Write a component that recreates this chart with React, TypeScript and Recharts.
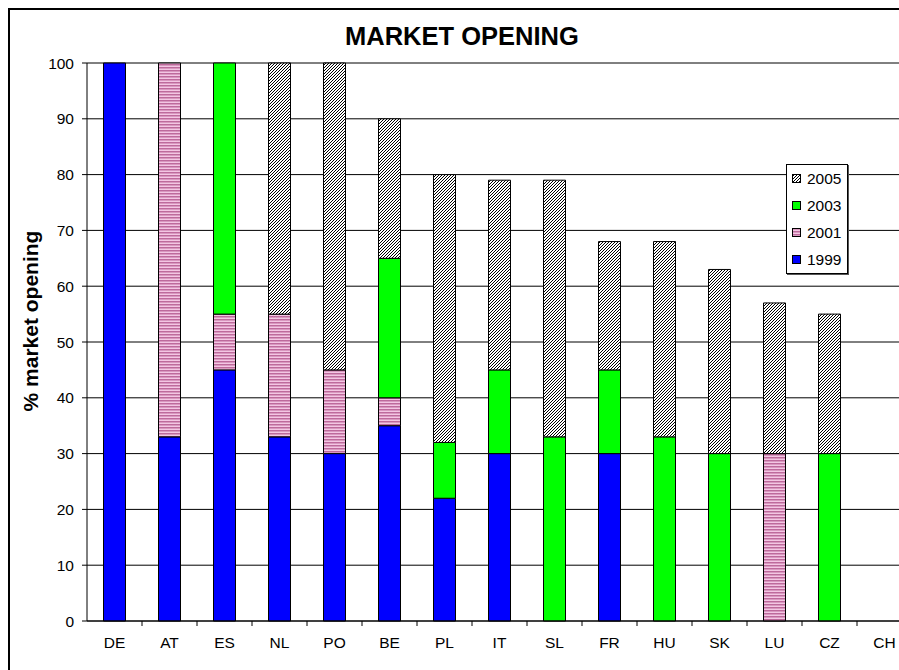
import React from "react";
import { BarChart, Bar, XAxis, YAxis, CartesianGrid, Legend } from "recharts";

const countries = ["DE", "AT", "ES", "NL", "PO", "BE", "PL", "IT", "SL", "FR", "HU", "SK", "LU", "CZ", "CH"];
const y1999 = [100, 33, 45, 33, 30, 35, 22, 30, 0, 30, 0, 0, 0, 0, 0];
const y2001 = [0, 67, 10, 22, 15, 5, 0, 0, 0, 0, 0, 0, 30, 0, 0];
const y2003 = [0, 0, 45, 0, 0, 25, 10, 15, 33, 15, 33, 30, 0, 30, 0];
const y2005 = [0, 0, 0, 45, 55, 25, 48, 34, 46, 23, 35, 33, 27, 25, 0];
const yTicks = [0, 10, 20, 30, 40, 50, 60, 70, 80, 90, 100];

const seriesKeys = ["1999", "2001", "2003", "2005"];
const seriesFills: Record<string, string> = {
  "1999": "#0000FF",
  "2001": "url(#pat2001)",
  "2003": "#00FF00",
  "2005": "url(#pat2005)",
};

const data = countries.map((c, i) => ({
  name: c,
  "1999": y1999[i],
  "2001": y2001[i],
  "2003": y2003[i],
  "2005": y2005[i],
}));

const FONT = "Arial, 'Liberation Sans', Helvetica, sans-serif";
const TICK_SIZE = 5;
const TICK_MARGIN = 11;

const XTick = (props: any) => {
  const { x, y, payload } = props;
  const half = payload && typeof payload.offset === "number" && payload.offset > 0 ? payload.offset : 27.5;
  const axisY = y - TICK_SIZE - TICK_MARGIN;
  return (
    <g>
      <line x1={x + half} x2={x + half} y1={axisY} y2={axisY + TICK_SIZE} stroke="#000" strokeWidth={1} />
      <text x={x} y={y} dy="0.71em" textAnchor="middle" fontSize={15.5} fontFamily={FONT} fill="#000">
        {payload.value}
      </text>
    </g>
  );
};

const YLabel = (props: any) => {
  const vb = props.viewBox || {};
  const cx = vb.x + 11;
  const cy = vb.y + vb.height / 2 - 21;
  return (
    <text
      x={cx}
      y={cy}
      transform={`rotate(-90, ${cx}, ${cy})`}
      textAnchor="middle"
      fontSize={21}
      fontWeight="bold"
      fontFamily={FONT}
      fill="#000"
    >
      % market opening
    </text>
  );
};

const legendOrder = ["2005", "2003", "2001", "1999"];

const LegendBox = () => (
  <div
    style={{
      border: "1px solid #000",
      background: "#fff",
      width: 60,
      boxShadow: "1px 1px 0 #555",
      fontFamily: FONT,
      fontSize: 15.5,
      color: "#000",
    }}
  >
    {legendOrder.map((k) => (
      <div key={k} style={{ height: 27, display: "flex", alignItems: "center", paddingLeft: 5 }}>
        <svg width={9} height={9} style={{ display: "block", marginRight: 6 }}>
          <rect x={0.5} y={0.5} width={8} height={8} fill={seriesFills[k]} stroke="#000" strokeWidth={1} />
        </svg>
        <span style={{ lineHeight: "15px" }}>{k}</span>
      </div>
    ))}
  </div>
);

export default function App() {
  return (
    <div
      style={{
        position: "absolute",
        left: 8,
        top: 8,
        width: 889,
        height: 660,
        overflow: "hidden",
        borderTop: "2px solid #000",
        borderLeft: "2px solid #000",
        background: "#fff",
      }}
    >
      <style>{`html, body { overflow: hidden; background: #fff; }`}</style>
      <div
        style={{
          position: "absolute",
          left: 335,
          top: 11,
          whiteSpace: "nowrap",
          fontFamily: FONT,
          fontWeight: "bold",
          fontSize: 25.5,
          lineHeight: "30px",
          color: "#000",
        }}
      >
        MARKET OPENING
      </div>
      <BarChart
        width={930}
        height={640}
        data={data}
        margin={{ top: 53, right: 28, left: 17, bottom: 9 }}
        barCategoryGap="30%"
      >
        <defs>
          <pattern id="pat2005" width="3" height="3" patternUnits="userSpaceOnUse">
            <rect width="3" height="3" fill="#fff" />
            <path d="M-1,1 l2,-2 M0,3 l3,-3 M2,4 l2,-2" stroke="#000" strokeWidth="1" />
          </pattern>
          <pattern id="pat2001" width="4" height="3" patternUnits="userSpaceOnUse">
            <rect width="4" height="3" fill="#F3C6E3" />
            <rect width="4" height="1.5" fill="#BE6A9C" />
          </pattern>
        </defs>
        <CartesianGrid vertical={false} stroke="#000" strokeWidth={1} />
        <XAxis
          dataKey="name"
          stroke="#000"
          tickLine={false}
          tickSize={TICK_SIZE}
          tickMargin={TICK_MARGIN}
          height={20}
          interval={0}
          tick={<XTick />}
        />
        <YAxis
          domain={[0, 100]}
          ticks={yTicks}
          interval={0}
          width={60}
          stroke="#000"
          tickSize={5}
          tickMargin={8}
          tick={{ fill: "#000", fontSize: 15.5, fontFamily: FONT }}
          label={<YLabel />}
        />
        <Legend
          layout="vertical"
          align="center"
          verticalAlign="middle"
          wrapperStyle={{ left: 776, top: 154, width: "auto", height: "auto" }}
          content={() => <LegendBox />}
        />
        {seriesKeys.map((k) => (
          <Bar
            key={k}
            dataKey={k}
            stackId="a"
            fill={seriesFills[k]}
            stroke="#000"
            strokeWidth={1}
            isAnimationActive={false}
          />
        ))}
      </BarChart>
    </div>
  );
}
